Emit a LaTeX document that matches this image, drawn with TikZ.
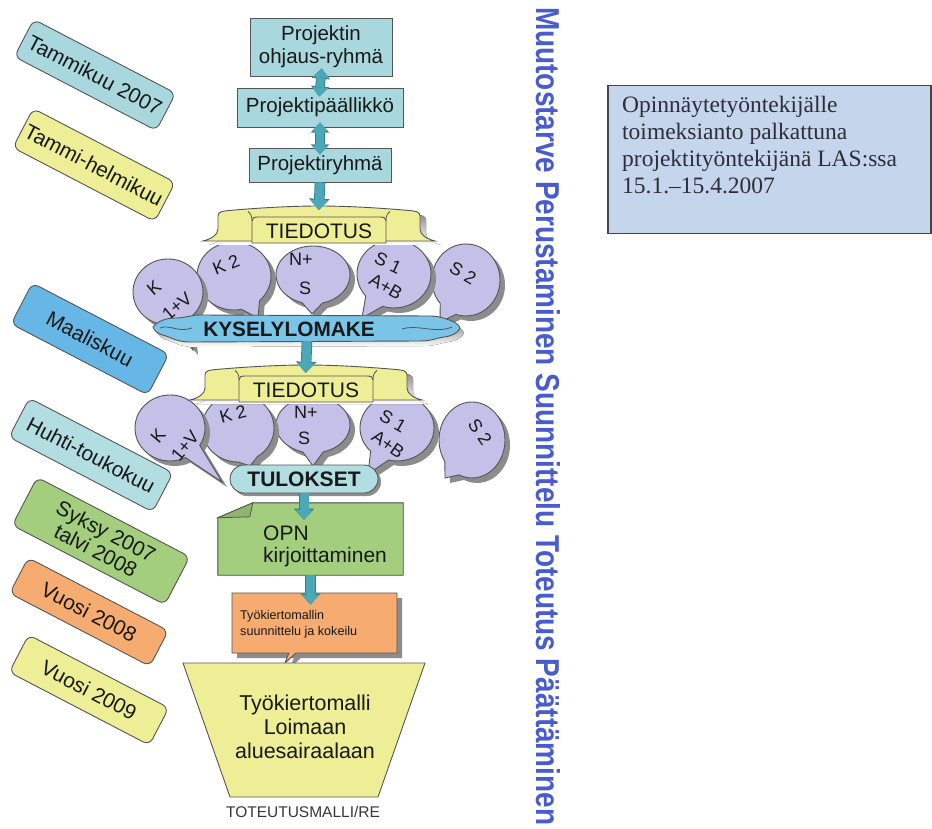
\documentclass[tikz,border=0pt]{standalone}
\usepackage{fontspec}
\setmainfont{Liberation Sans}
\newfontfamily\noteserif{Liberation Serif}
\usepackage{graphicx}
\usetikzlibrary{shapes.callouts,shadows,arrows.meta,calc}

\definecolor{tealbox}{RGB}{168,216,222}
\definecolor{lemon}{RGB}{238,238,150}
\definecolor{skyblue}{RGB}{102,182,230}
\definecolor{paleteal}{RGB}{178,222,226}
\definecolor{leaf}{RGB}{162,206,126}
\definecolor{apricot}{RGB}{246,172,112}
\definecolor{lavender}{RGB}{196,192,232}
\definecolor{wave}{RGB}{122,196,232}
\definecolor{noteblue}{RGB}{197,214,236}
\definecolor{edge}{RGB}{85,85,85}
\definecolor{shade}{RGB}{140,140,140}
\definecolor{arrowteal}{RGB}{74,168,184}
\definecolor{arrowedge}{RGB}{55,125,140}
\definecolor{vertblue}{RGB}{72,92,205}
\definecolor{ink}{RGB}{25,25,25}

\newcommand\fsz[2]{\fontsize{#1}{#2}\selectfont}

\tikzset{
  topbox/.style={draw=edge, fill=tealbox, line width=0.9pt, inner sep=0pt, align=center, font=\fsz{20.5}{23}},
  monthbox/.style={draw=edge, line width=0.9pt, rounded corners=7pt, rotate=-27.5, align=center, inner sep=0pt, font=\fsz{21}{22}},
  bubble/.style={ellipse callout, callout pointer arc=32, draw=edge, fill=lavender, line width=0.9pt, inner sep=0pt,
    copy shadow={shadow xshift=5pt, shadow yshift=-5pt, fill=shade, draw=none}},
  bubbletext/.style={font=\fsz{18}{20}, inner sep=0pt},
  flow/.style={line width=9pt, draw=arrowteal, -{Triangle[width=18pt,length=10pt,line width=0pt]},
    preaction={draw=arrowedge, line width=10.6pt, -{Triangle[width=20.5pt,length=11.2pt,line width=0pt]}}},
  flowboth/.style={line width=8pt, draw=arrowteal,
    {Triangle[width=16pt,length=9pt,line width=0pt]}-{Triangle[width=16pt,length=9pt,line width=0pt]},
    preaction={draw=arrowedge, line width=9.6pt,
      {Triangle[width=18.5pt,length=10.2pt,line width=0pt]}-{Triangle[width=18.5pt,length=10.2pt,line width=0pt]}}},
  tiedotus/.pic={
    \def\ribbon{(-116,35) .. controls (-108,33) and (-101,29) .. (-101,23) -- (-101,10)
      .. controls (-101,6) and (-97,5) .. (-90,4.5) .. controls (-50,1) and (-20,0) .. (0,0)
      .. controls (20,0) and (50,1) .. (90,4.5) .. controls (97,5) and (101,6) .. (101,10)
      -- (101,23) .. controls (101,29) and (108,33) .. (116,35) -- cycle}
    \fill[shade, shift={(6,4)}] \ribbon;
    \draw[edge, fill=lemon, line width=0.9pt] \ribbon;
    \draw[edge, fill=lemon, line width=0.9pt] (-67,37) -- (-67,15) .. controls (-67,12) and (-65,11) .. (-61,11)
      -- (61,11) .. controls (65,11) and (67,12) .. (67,15) -- (67,37) -- cycle;
    \draw[edge, line width=0.8pt] (-67,15) .. controls (-67,10) and (-68,8) .. (-71,5.5);
    \draw[edge, line width=0.8pt] (67,15) .. controls (67,10) and (68,8) .. (71,5.5);
    \coordinate (-top) at (0,0);
    \node[font=\fsz{21}{21}, inner sep=0pt] (-label) at (0,25) {TIEDOTUS};
  }
}

\begin{document}
\begin{tikzpicture}[x=1pt, y=-1pt, every node/.style={text=ink}]
\useasboundingbox (0,0) rectangle (932,829);
\fill[white] (0,0) rectangle (932,829);

% time line labels on the left
\node[monthbox, fill=tealbox, minimum width=160pt, minimum height=42pt] (m1) at (95,75) {Tammikuu 2007};
\node[monthbox, fill=lemon, minimum width=160pt, minimum height=44pt] (m2) at (94,165) {Tammi-helmikuu};
\node[monthbox, fill=skyblue, minimum width=154pt, minimum height=46pt] (m3) at (90,339) {Maaliskuu};
\node[monthbox, fill=paleteal, minimum width=162pt, minimum height=44pt] (m4) at (91,455) {Huhti-toukokuu};
\node[monthbox, fill=leaf, minimum width=172pt, minimum height=54pt] (m5) at (101,541) {Syksy 2007\\talvi 2008};
\node[monthbox, fill=apricot, minimum width=158pt, minimum height=40pt] (m6) at (89,612) {Vuosi 2008};
\node[monthbox, fill=lemon, minimum width=158pt, minimum height=42pt] (m7) at (89,690) {Vuosi 2009};

% organisation boxes
\node[topbox, minimum width=142pt, minimum height=58pt] (p1) at (321,47) {Projektin\\ohjaus-ryhmä};
\node[topbox, minimum width=166pt, minimum height=39pt] (p2) at (320,107.5) {Projektipäällikkö};
\node[topbox, minimum width=142pt, minimum height=34pt] (p3) at (320,165) {Projektiryhmä};

% first round of speech bubbles
\node[bubble, minimum width=68pt, minimum height=72pt, callout absolute pointer={(440,322)}] (ra5) at (466,280) {};
\node[bubble, minimum width=74pt, minimum height=68pt, callout absolute pointer={(362,318)}] (ra4) at (394,274) {};
\node[bubble, minimum width=74pt, minimum height=58pt, callout absolute pointer={(312,314)}] (ra3) at (313,275) {};
\node[bubble, minimum width=74pt, minimum height=68pt, callout absolute pointer={(258,318)}] (ra2) at (234,276) {};
\node[bubble, minimum width=70pt, minimum height=66pt, callout absolute pointer={(193,350)}] (ra1) at (168,292) {};
\node[bubbletext, rotate=-30] (ra5t) at (463,273) {S 2};
\node[bubbletext, rotate=-25] (ra4a) at (388,263) {S 1};
\node[bubbletext, rotate=-30] (ra4b) at (386,287) {A+B};
\node[bubbletext] (ra3a) at (301,259) {N+};
\node[bubbletext] (ra3b) at (305,288) {S};
\node[bubbletext, rotate=22] (ra2t) at (226,265) {K 2};
\node[bubbletext, rotate=40] (ra1a) at (154,288) {K};
\node[bubbletext, rotate=40] (ra1b) at (177,306) {1+V};

\pic (t1) at (319,206) {tiedotus};

% questionnaire banner
\def\banner{(153,327) .. controls (158,321) and (166,318) .. (176,318) .. controls (186,318) and (190,315) .. (200,315)
  -- (430,316) .. controls (440,316) and (446,319) .. (452,321) .. controls (456,323) and (459,325) .. (460,328)
  .. controls (458,333) and (452,336) .. (444,337) .. controls (436,338) and (432,341) .. (420,341)
  -- (190,342) .. controls (178,342) and (172,338) .. (166,336) .. controls (158,334) and (154,331) .. (153,327) -- cycle}
\fill[shade, shift={(4,5)}] \banner;
\draw[edge, fill=wave, line width=0.9pt] \banner;
\draw[edge, line width=0.8pt] (160,328) .. controls (170,324) and (178,333) .. (192,328);
\draw[edge, line width=0.8pt] (402,329) .. controls (418,324) and (436,334) .. (452,327);
\node[font=\bfseries\fsz{20.8}{21}, inner sep=0pt] (kysely) at (289,329) {KYSELYLOMAKE};
\coordinate (kyselybot) at (307,341);

% second round of speech bubbles
\node[bubble, minimum width=66pt, minimum height=76pt, callout absolute pointer={(445,478)}] (rb5) at (472,440) {};
\node[bubble, minimum width=74pt, minimum height=66pt, callout absolute pointer={(368,474)}] (rb4) at (397,428) {};
\node[bubble, minimum width=74pt, minimum height=56pt, callout absolute pointer={(313,466)}] (rb3) at (313,425) {};
\node[bubble, minimum width=72pt, minimum height=68pt, callout absolute pointer={(250,466)}] (rb2) at (238,428) {};
\node[bubble, minimum width=70pt, minimum height=66pt, callout absolute pointer={(222,482)}] (rb1) at (170,428) {};
\node[bubbletext, rotate=-55] (rb5t) at (480,432) {S 2};
\node[bubbletext, rotate=-30] (rb4a) at (393,421) {S 1};
\node[bubbletext, rotate=-35] (rb4b) at (388,444) {A+B};
\node[bubbletext] (rb3a) at (306,412) {N+};
\node[bubbletext] (rb3b) at (304,438) {S};
\node[bubbletext, rotate=15] (rb2t) at (233,414) {K 2};
\node[bubbletext, rotate=50] (rb1a) at (158,436) {K};
\node[bubbletext, rotate=50] (rb1b) at (185,446) {1+V};

\pic (t2) at (306,365) {tiedotus};

\node[draw=edge, fill=paleteal, line width=0.9pt, rounded corners=14pt, minimum width=148pt, minimum height=28pt,
  inner sep=0pt, font=\bfseries\fsz{21}{21},
  copy shadow={shadow xshift=3pt, shadow yshift=-3pt, fill=shade, draw=none}] (tulokset) at (304,479) {TULOKSET};

% thesis writing (sheet with folded corner)
\node[minimum width=185pt, minimum height=72pt, inner sep=0pt] (opn) at (310.5,539) {};
\fill[shade, shift={(7,7)}] ([xshift=35pt]opn.north west) -- (opn.north east) -- (opn.south east)
  -- (opn.south west) -- ([yshift=-15pt]opn.north west) -- cycle;
\draw[edge, fill=leaf, line width=0.9pt] ([xshift=35pt]opn.north west) -- (opn.north east) -- (opn.south east)
  -- (opn.south west) -- ([yshift=-15pt]opn.north west) -- cycle;
\draw[edge, fill=leaf!80!black!60!leaf, line width=0.8pt] ([yshift=-15pt]opn.north west)
  -- ([xshift=32pt,yshift=-14pt]opn.north west) -- ([xshift=35pt]opn.north west) -- cycle;
\node[anchor=west, align=left, inner sep=0pt, font=\fsz{21}{22}] (opntext) at (263,546) {OPN\\kirjoittaminen};

% rotation model design
\node[rectangle callout, draw=edge, fill=apricot, line width=0.9pt, minimum width=165pt, minimum height=60pt, inner sep=0pt,
  callout absolute pointer={(285,663)},
  copy shadow={shadow xshift=5pt, shadow yshift=-5pt, fill=shade, draw=none}] (design) at (314.5,623) {};
\node[anchor=west, align=left, inner sep=0pt, font=\fsz{12.6}{16}] (designtext) at (240,624) {Työkiertomallin\\suunnittelu ja kokeilu};

% resulting model
\draw[edge, fill=lemon, line width=0.9pt] (183,663) -- (425,663) -- (378,797) -- (230,797) -- cycle;
\node[align=center, inner sep=0pt, font=\fsz{21.5}{24}] (model) at (305,727) {Työkiertomalli\\Loimaan\\aluesairaalaan};
\node[inner sep=0pt, font=\fsz{15.5}{16}, text={rgb,255:red,55;green,55;blue,55}] (modelname) at (303,812) {TOTEUTUSMALLI/RE};

% flow arrows
\draw[flowboth, shorten <=-8pt, shorten >=-9pt] (p1.south) -- (p2.north);
\draw[flowboth, shorten <=-5pt, shorten >=-7pt] (p2.south) -- (p3.north);
\draw[flow, shorten >=-4pt] (p3.south) -- (t1-top);
\draw[flow, shorten >=-8pt] (kyselybot) -- (t2-top);
\draw[flow, shorten >=-17pt] (tulokset.south) -- (tulokset.south |- opn.north);
\draw[flow, shorten >=-12pt] (opn.south) -- (opn.south |- design.north);

% project phases, written downwards
\node[rotate=-90, anchor=base west, inner sep=0pt, text=vertblue] (phases) at (536,7)
  {\resizebox{818pt}{24pt}{\bfseries Muutostarve Perustaminen Suunnittelu Toteutus Päättäminen}};

% assignment note
\node[draw={rgb,255:red,70;green,70;blue,70}, fill=noteblue, line width=1.5pt, minimum width=323pt, minimum height=148pt,
  anchor=north west, inner sep=0pt] (note) at (607,85) {};
\node[anchor=north west, align=left, inner sep=0pt, font=\noteserif\fsz{23.5}{27},
  text={rgb,255:red,45;green,45;blue,60}] (notetext) at (622,96)
  {Opinnäytetyöntekijälle\\toimeksianto palkattuna\\projektityöntekijänä LAS:ssa\\15.1.–15.4.2007};
\end{tikzpicture}
\end{document}
